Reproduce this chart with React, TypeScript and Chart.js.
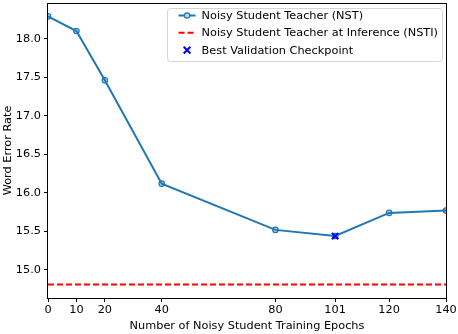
import { useEffect, useRef } from "react";
import { Chart, registerables } from "chart.js";

Chart.register(...registerables);

const epochs = [0, 10, 20, 40, 80, 101, 120, 140];
const nstWer = [18.29, 18.1, 17.46, 16.12, 15.52, 15.44, 15.74, 15.77];
const nstiWer = 14.81;
const nstiSpan = [0, 140];
const bestEpoch = [101];
const bestWer = [15.44];
const xTicks = [0, 10, 20, 40, 80, 101, 120, 140];
const yTicks = [15.0, 15.5, 16.0, 16.5, 17.0, 17.5, 18.0];
const seriesLabels = [
  "Noisy Student Teacher (NST)",
  "Noisy Student Teacher at Inference (NSTI)",
  "Best Validation Checkpoint",
];
const xTitle = "Number of Noisy Student Training Epochs";
const yTitle = "Word Error Rate";

const FONT = '"DejaVu Sans", sans-serif';
const FS = 11.3;

const allY = [...nstWer, nstiWer, ...bestWer];
const yLo = Math.min(...allY);
const yHi = Math.max(...allY);
const yPad = (yHi - yLo) * 0.05;

const framePlugin = {
  id: "frame",
  afterDatasetsDraw(chart: any) {
    const { ctx, chartArea } = chart;
    const { left, top, right, bottom } = chartArea;
    ctx.save();
    ctx.strokeStyle = "#000";
    ctx.lineWidth = 1;
    ctx.strokeRect(Math.round(left) - 0.5, Math.round(top) + 0.5, Math.round(right - left) + 1, Math.round(bottom - top));
    ctx.restore();
  },
};

const legendPlugin = {
  id: "boxLegend",
  afterDraw(chart: any) {
    const { ctx, chartArea } = chart;
    const ds = chart.data.datasets;
    ctx.save();
    ctx.font = `${FS}px ${FONT}`;
    const textW = Math.max(...ds.map((d: any) => ctx.measureText(d.label).width));
    const handleL = 12;
    const handleLen = 17;
    const gap = 6;
    const padR = 4;
    const boxW = handleL + handleLen + gap + textW + padR;
    const right = chartArea.right - 4;
    const left = right - boxW;
    const top = chartArea.top + 5;
    const rowH = 17.3;
    const boxH = 53;
    ctx.beginPath();
    (ctx as any).roundRect(Math.round(left) + 0.5, Math.round(top) + 0.5, Math.round(boxW), boxH, 3);
    ctx.fillStyle = "rgba(255,255,255,0.8)";
    ctx.fill();
    ctx.strokeStyle = "#d5d5d5";
    ctx.lineWidth = 1;
    ctx.stroke();
    const order = [0, 1, 2];
    order.forEach((i, row) => {
      const d = ds[i];
      const cy = top + 7.5 + row * rowH;
      const x0 = left + handleL;
      const x1 = x0 + handleLen;
      const xm = (x0 + x1) / 2;
      if (d.showLine !== false && d.type !== "scatter") {
        ctx.beginPath();
        ctx.setLineDash(d.borderDash || []);
        ctx.strokeStyle = d.borderColor;
        ctx.lineWidth = d.borderWidth;
        ctx.moveTo(x0, cy);
        ctx.lineTo(x1, cy);
        ctx.stroke();
        ctx.setLineDash([]);
      }
      if (d.pointRadius > 0) {
        if (d.pointStyle === "crossRot") {
          const r = d.pointRadius * 0.75;
          ctx.beginPath();
          ctx.strokeStyle = d.borderColor;
          ctx.lineWidth = d.borderWidth;
          ctx.moveTo(xm - r, cy - r);
          ctx.lineTo(xm + r, cy + r);
          ctx.moveTo(xm + r, cy - r);
          ctx.lineTo(xm - r, cy + r);
          ctx.stroke();
        } else {
          ctx.beginPath();
          ctx.arc(xm, cy, d.pointRadius, 0, Math.PI * 2);
          ctx.fillStyle = "#fff";
          ctx.fill();
          ctx.fillStyle = d.pointBackgroundColor;
          ctx.fill();
          ctx.strokeStyle = d.pointBorderColor;
          ctx.lineWidth = d.pointBorderWidth;
          ctx.stroke();
        }
      }
      ctx.fillStyle = "#000";
      ctx.textBaseline = "middle";
      ctx.textAlign = "left";
      ctx.fillText(d.label, x1 + gap, cy + 0.5);
    });
    ctx.restore();
  },
};

export default function App() {
  const ref = useRef<HTMLCanvasElement | null>(null);

  useEffect(() => {
    document.body.style.margin = "0";
    const canvas = ref.current;
    if (!canvas) return;
    const chart = new Chart(canvas, {
      type: "line",
      data: {
        datasets: [
          {
            label: seriesLabels[0],
            data: epochs.map((x, i) => ({ x, y: nstWer[i] })),
            borderColor: "#1f77b4",
            borderWidth: 2,
            pointRadius: 2.7,
            pointBorderWidth: 1.2,
            pointBackgroundColor: "rgba(31,119,180,0.3)",
            pointBorderColor: "#1f77b4",
            tension: 0,
            order: 3,
          } as any,
          {
            label: seriesLabels[1],
            data: nstiSpan.map((x) => ({ x, y: nstiWer })),
            borderColor: "#ff0000",
            borderWidth: 2,
            borderDash: [6, 3],
            pointRadius: 0,
            order: 2,
          },
          {
            type: "scatter",
            label: seriesLabels[2],
            data: bestEpoch.map((x, i) => ({ x, y: bestWer[i] })),
            borderColor: "#0000ff",
            backgroundColor: "#0000ff",
            borderWidth: 2,
            pointStyle: "crossRot",
            pointRadius: 4.5,
            showLine: false,
            order: 1,
          } as any,
        ],
      },
      options: {
        animation: false,
        responsive: false,
        layout: { autoPadding: false, padding: { top: 3, right: 12, left: 0, bottom: 0 } },
        plugins: {
          legend: { display: false },
          tooltip: { enabled: false },
        },
        scales: {
          x: {
            type: "linear",
            min: 0,
            max: 140,
            afterBuildTicks: (s: any) => {
              s.ticks = xTicks.map((v) => ({ value: v }));
            },
            afterFit: (s: any) => {
              s.height = 36;
              s.paddingLeft = 0;
              s.paddingRight = 0;
            },
            ticks: {
              color: "#000",
              font: { family: FONT, size: FS },
              padding: 1,
              autoSkip: false,
              maxRotation: 0,
              callback: (v: any) => String(v),
            },
            grid: { drawOnChartArea: false, drawTicks: true, tickLength: 4, color: "#000" },
            border: { display: false },
            title: {
              display: true,
              text: xTitle,
              color: "#000",
              font: { family: FONT, size: FS },
              padding: { top: 0, bottom: 1 },
            },
          },
          y: {
            type: "linear",
            min: yLo - yPad,
            max: yHi + yPad,
            afterBuildTicks: (s: any) => {
              s.ticks = yTicks.map((v) => ({ value: v }));
            },
            afterFit: (s: any) => {
              s.width = 48;
              s.paddingTop = 0;
              s.paddingBottom = 0;
            },
            ticks: {
              color: "#000",
              font: { family: FONT, size: FS },
              padding: 3,
              callback: (v: any) => Number(v).toFixed(1),
            },
            grid: { drawOnChartArea: false, drawTicks: true, tickLength: 4, color: "#000" },
            border: { display: false },
            title: {
              display: true,
              text: yTitle,
              color: "#000",
              font: { family: FONT, size: FS },
              padding: { top: 1, bottom: 0 },
            },
          },
        },
      },
      plugins: [framePlugin, legendPlugin],
    });
    return () => chart.destroy();
  }, []);

  return (
    <div style={{ width: 458, height: 334 }}>
      <canvas ref={ref} width={458} height={334} />
    </div>
  );
}
